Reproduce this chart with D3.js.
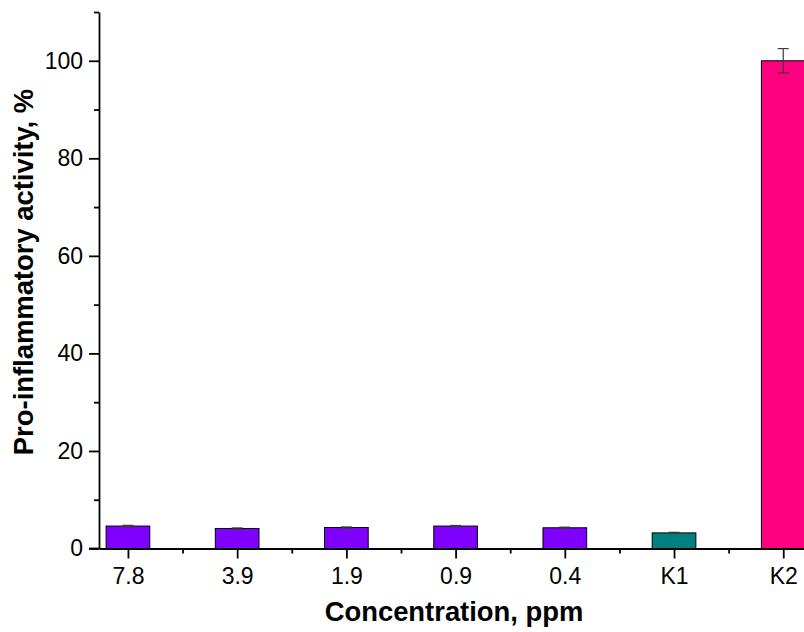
<!DOCTYPE html>
<html>
<head>
<meta charset="utf-8">
<script src="https://cdn.jsdelivr.net/npm/d3@7"></script>
<style>
  body { margin: 0; background: #fff; }
  svg text { font-family: "Liberation Sans", Arial, sans-serif; }
</style>
</head>
<body>
<div class="chartBox"></div>
<script>
// data
var categories = ['7.8', '3.9', '1.9', '0.9', '0.4', 'K1', 'K2'];
var values = [4.6, 4.1, 4.3, 4.6, 4.25, 3.2, 100];
var errors = [0.15, 0.12, 0.12, 0.12, 0.12, 0.12, 2.5];
var colors = ['#8000ff', '#8000ff', '#8000ff', '#8000ff', '#8000ff', '#008080', '#ff0080'];
var yTicks = [0, 20, 40, 60, 80, 100];
var yMinor = [10, 30, 50, 70, 90, 110];

var width = 804, height = 632;

var svg = d3.select('.chartBox')
    .append('svg')
    .attr('width', width)
    .attr('height', height);

// categories sit at 1..7 on a linear axis
var x = d3.scaleLinear()
    .domain([0.735, 7.95])
    .range([99, 887]);

var y = d3.scaleLinear()
    .domain([0, 110])
    .range([548.5, 12]);

var barW = 0.4;

svg.selectAll('.bar')
    .data(values)
    .enter().append('rect')
    .attr('class', 'bar')
    .attr('x', (d, i) => x(i + 1 - barW / 2))
    .attr('width', (d, i) => x(i + 1 + barW / 2) - x(i + 1 - barW / 2))
    .attr('y', d => y(d))
    .attr('height', d => y(0) - y(d))
    .attr('fill', (d, i) => colors[i])
    .attr('stroke', '#000')
    .attr('stroke-width', 1);

// error bars
var err = svg.selectAll('.err')
    .data(values)
    .enter().append('g')
    .attr('class', 'err')
    .attr('stroke', '#3a3a3a')
    .attr('stroke-width', 1.2);

err.append('line')
    .attr('x1', (d, i) => x(i + 1))
    .attr('x2', (d, i) => x(i + 1))
    .attr('y1', (d, i) => y(d + errors[i]))
    .attr('y2', (d, i) => y(d - errors[i]));
err.append('line')
    .attr('x1', (d, i) => x(i + 1) - 5.5)
    .attr('x2', (d, i) => x(i + 1) + 5.5)
    .attr('y1', (d, i) => y(d + errors[i]))
    .attr('y2', (d, i) => y(d + errors[i]));
err.append('line')
    .attr('x1', (d, i) => x(i + 1) - 5.5)
    .attr('x2', (d, i) => x(i + 1) + 5.5)
    .attr('y1', (d, i) => y(d - errors[i]))
    .attr('y2', (d, i) => y(d - errors[i]));

// y axis
svg.append('g')
    .attr('transform', 'translate(' + x.range()[0] + ',0)')
    .call(d3.axisLeft(y).tickValues(yTicks).tickSize(10).tickPadding(6).tickSizeOuter(0));
svg.append('g')
    .attr('transform', 'translate(' + x.range()[0] + ',0)')
    .call(d3.axisLeft(y).tickValues(yMinor).tickSize(5).tickFormat('').tickSizeOuter(0))
    .select('.domain').remove();

// x axis
var xPos = categories.map((c, i) => i + 1);
var xMinor = categories.map((c, i) => i + 1.5);
svg.append('g')
    .attr('transform', 'translate(0,' + y(0) + ')')
    .call(d3.axisBottom(x).tickValues(xPos).tickFormat((d, i) => categories[i]).tickSize(10).tickPadding(9).tickSizeOuter(0));
svg.append('g')
    .attr('transform', 'translate(0,' + y(0) + ')')
    .call(d3.axisBottom(x).tickValues(xMinor).tickSize(5).tickFormat('').tickSizeOuter(0))
    .select('.domain').remove();

svg.selectAll('.domain').attr('stroke-width', 1.8);
svg.selectAll('.tick line').attr('stroke-width', 1.8);
svg.selectAll('.tick text')
    .style('font-size', '23px')
    .style('font-family', '"Liberation Sans", Arial, sans-serif')
    .attr('fill', '#000');

// extend x axis line left to the zero tick
svg.append('line')
    .attr('x1', x.range()[0] - 10)
    .attr('x2', x.range()[0])
    .attr('y1', y(0))
    .attr('y2', y(0))
    .attr('stroke', '#000')
    .attr('stroke-width', 1.8);

svg.append('text')
    .attr('x', 454)
    .attr('y', 621)
    .attr('text-anchor', 'middle')
    .style('font-size', '27.4px')
    .style('font-weight', 'bold')
    .text('Concentration, ppm');

svg.append('text')
    .attr('transform', 'translate(33,272) rotate(-90)')
    .attr('text-anchor', 'middle')
    .style('font-size', '27.4px')
    .style('font-weight', 'bold')
    .text('Pro-inflammatory activity, %');
</script>
</body>
</html>
